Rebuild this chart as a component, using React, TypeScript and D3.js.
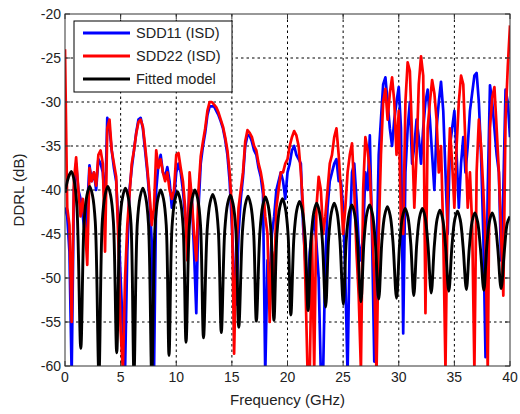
import * as d3 from 'd3';

// measured traces, sampled every 0.2 GHz from 0 to 40 GHz
const STEP = 0.2;

const sdd11 = [
  -42, -43, -47, -61, -40,
  -37, -40, -41, -43, -45,
  -42, -37.2, -39, -38, -40,
  -36.5, -37, -38, -42, -31.8,
  -33, -35.5, -37.5, -39, -44,
  -50, -56, -60.5, -47, -40,
  -37.5, -35.5, -33.5, -32, -31.8,
  -33, -35.5, -38, -41, -46,
  -61, -40, -37, -36, -38,
  -38.5, -37.4, -39, -42, -41,
  -38, -37, -38, -40, -43,
  -45, -39, -41, -47, -54,
  -42, -37, -35, -33.5, -31.5,
  -30.5, -30.5, -30.5, -31, -31.5,
  -32.2, -33, -34.3, -36, -39,
  -44, -50, -53, -45, -41,
  -38.5, -35, -33.8, -33.8, -34.5,
  -35.5, -36, -37.5, -38.5, -40.5,
  -61, -48, -50, -45, -43,
  -40, -39, -38, -39, -41,
  -38, -37, -35.5, -35, -36,
  -36.5, -37, -44, -48, -52,
  -47, -45, -43, -46, -50,
  -61, -61, -48, -42, -39,
  -38, -37, -36.5, -39, -39,
  -42, -50, -61, -45, -38,
  -37, -41, -46, -48, -45,
  -38, -40, -33.8, -45, -59.5,
  -48, -36, -32, -28, -27.2,
  -30, -33, -35, -32, -30,
  -28.3, -33, -56.3, -38, -33,
  -30, -37, -35, -32, -34,
  -37, -33, -30, -28.6, -32,
  -36, -40, -33, -30, -27.7,
  -31, -38, -45, -35, -33,
  -31, -36, -42, -37, -34,
  -38, -35, -31, -29, -27,
  -26.7, -30, -36, -45, -59,
  -40, -28.1, -30, -33, -36,
  -38, -48, -40, -28.6, -30,
  -34,
];

const sdd22 = [
  -24, -42, -44, -55, -39,
  -36.3, -40, -43, -41, -44,
  -48.5, -37.5, -39, -38, -39.5,
  -36, -35.5, -37, -47, -33,
  -32, -35.5, -37, -38.5, -46,
  -56, -60.5, -50, -44, -40.5,
  -37, -35.5, -33.6, -32.3, -32,
  -32.8, -35, -37.5, -40.5, -44,
  -42, -35.5, -37.5, -36.5, -38,
  -39, -38, -40, -41, -40,
  -36, -35.8, -37.5, -39, -42,
  -48, -38, -41, -45, -48,
  -40, -36.2, -34.5, -33, -31,
  -30, -30, -30.3, -30.6, -31.2,
  -32, -32.8, -34, -35.5, -38,
  -42, -58.6, -47, -42, -40,
  -38, -34.5, -33.2, -33.5, -34,
  -35, -35.5, -37, -38, -39.5,
  -43, -45, -55, -47, -50,
  -42, -40, -38, -38, -37,
  -36.5, -35, -34, -33.3, -33.8,
  -35, -38, -42, -50, -60.5,
  -61, -45, -60.5, -42, -38.5,
  -40, -45, -43, -40, -37,
  -36, -34, -33, -36, -40,
  -45, -42, -38, -36, -34.7,
  -40, -47, -52, -60.5, -40,
  -34, -35.5, -38, -44, -50,
  -61, -45, -36, -30, -28.5,
  -32, -29, -27.2, -30, -36,
  -31, -44, -45, -30, -25.5,
  -26.5, -34, -42, -36, -28,
  -24.8, -27, -54, -33, -30,
  -27.5, -29, -32, -38, -35,
  -45, -60.5, -40, -33, -37,
  -42, -35, -30, -27, -28,
  -35, -42, -38, -44, -60.5,
  -38, -32, -35, -40, -46,
  -60.5, -33, -29.5, -28.3, -33,
  -38, -45, -52, -32, -26,
  -21.3,
];

// fitted model: peaks, shoulders and notches [GHz, dB]
const fitted: [number, number][] = [
  [0, -40.3], [0.3, -38.6], [0.57, -37.9], [0.82, -38.9], [1.07, -41.9], [1.42, -58.0],
  [1.72, -43.6], [1.97, -40.6], [2.22, -39.6], [2.47, -40.6], [2.72, -43.6], [3.05, -61],
  [3.35, -43.6], [3.6, -40.6], [3.85, -39.6], [4.1, -40.6], [4.35, -43.6], [4.65, -58.5],
  [4.93, -43.8], [5.18, -40.8], [5.43, -39.8], [5.68, -40.8], [5.93, -43.8], [6.2, -60.8],
  [6.5, -43.8], [6.75, -40.8], [7.0, -39.8], [7.25, -40.8], [7.5, -43.8], [7.8, -61],
  [8.1, -44.0], [8.35, -41.0], [8.6, -40.0], [8.85, -41.0], [9.1, -44.0], [9.35, -58.8],
  [9.62, -44.2], [9.87, -41.2], [10.12, -40.2], [10.37, -41.2], [10.62, -44.2], [10.88, -57.3],
  [11.18, -44.0], [11.43, -41.0], [11.68, -40.0], [11.93, -41.0], [12.18, -44.0], [12.45, -56.8],
  [12.78, -44.5], [13.03, -41.5], [13.28, -40.5], [13.53, -41.5], [13.78, -44.5], [14.05, -56.2],
  [14.36, -44.6], [14.61, -41.6], [14.86, -40.6], [15.11, -41.6], [15.36, -44.6], [15.62, -55.6],
  [15.95, -44.7], [16.2, -41.7], [16.45, -40.7], [16.7, -41.7], [16.95, -44.7], [17.2, -54.9],
  [17.52, -44.8], [17.77, -41.8], [18.02, -40.8], [18.27, -41.8], [18.52, -44.8], [18.78, -54.8],
  [19.05, -45.0], [19.3, -42.0], [19.55, -41.0], [19.8, -42.0], [20.05, -45.0], [20.3, -54.2],
  [20.58, -45.3], [20.83, -42.3], [21.08, -41.3], [21.33, -42.3], [21.58, -45.3], [21.85, -53.7],
  [22.12, -45.5], [22.37, -42.5], [22.62, -41.5], [22.87, -42.5], [23.12, -45.5], [23.43, -53.3],
  [23.7, -45.5], [23.95, -42.5], [24.2, -41.5], [24.45, -42.5], [24.7, -45.5], [25.02, -53.0],
  [25.28, -45.7], [25.53, -42.7], [25.78, -41.7], [26.03, -42.7], [26.28, -45.7], [26.6, -52.7],
  [26.88, -45.7], [27.13, -42.7], [27.38, -41.7], [27.63, -42.7], [27.88, -45.7], [28.2, -52.4],
  [28.48, -45.9], [28.73, -42.9], [28.98, -41.9], [29.23, -42.9], [29.48, -45.9], [29.8, -52.3],
  [30.08, -46.1], [30.33, -43.1], [30.58, -42.1], [30.83, -43.1], [31.08, -46.1], [31.35, -52.0],
  [31.62, -46.1], [31.87, -43.1], [32.12, -42.1], [32.37, -43.1], [32.62, -46.1], [32.92, -51.7],
  [33.2, -46.3], [33.45, -43.3], [33.7, -42.3], [33.95, -43.3], [34.2, -46.3], [34.5, -51.5],
  [34.78, -46.4], [35.03, -43.4], [35.28, -42.4], [35.53, -43.4], [35.78, -46.4], [36.08, -51.3],
  [36.34, -46.6], [36.59, -43.6], [36.84, -42.6], [37.09, -43.6], [37.34, -46.6], [37.65, -51.4],
  [37.9, -46.6], [38.15, -43.6], [38.4, -42.6], [38.65, -43.6], [38.9, -46.6], [39.2, -51.2],
  [39.5, -46.8], [39.75, -43.8], [40.0, -43.0],
];

const xTicks = [0, 5, 10, 15, 20, 25, 30, 35, 40];
const yTicks = [-60, -55, -50, -45, -40, -35, -30, -25, -20];

const series = [
  { name: 'SDD11 (ISD)', color: '#0000ff' },
  { name: 'SDD22 (ISD)', color: '#ff0000' },
  { name: 'Fitted model', color: '#000000' },
];

const W = 520, H = 414;
const L = 65, R = 510, T = 14, B = 366;
const font = '"Liberation Sans", Arial, sans-serif';

export default function App() {
  const x = d3.scaleLinear().domain([0, 40]).range([L, R]);
  const y = d3.scaleLinear().domain([-60, -20]).range([B, T]);

  const sampled = d3.line<number>()
    .x((_, i) => x(i * STEP))
    .y(d => y(d));
  const smooth = d3.line<[number, number]>()
    .x(d => x(d[0]))
    .y(d => y(d[1]))
    .curve(d3.curveCatmullRom.alpha(0.5));

  return (
    <svg width={W} height={H} style={{ position: 'absolute', left: 0, top: 0, background: '#fff' }}>
      <defs>
        <clipPath id="plot">
          <rect x={L} y={T} width={R - L} height={B - T} />
        </clipPath>
      </defs>
      <rect x={0} y={0} width={W} height={H} fill="#fff" />

      {/* grid */}
      {xTicks.slice(1, -1).map(t => (
        <line key={'gx' + t} x1={x(t)} x2={x(t)} y1={T} y2={B}
          stroke="#000" strokeWidth={1} strokeDasharray="2.5,3" />
      ))}
      {yTicks.slice(1, -1).map(t => (
        <line key={'gy' + t} x1={L} x2={R} y1={y(t)} y2={y(t)}
          stroke="#000" strokeWidth={1} strokeDasharray="2.5,3" />
      ))}

      <g clipPath="url(#plot)" fill="none" strokeLinejoin="round">
        <path d={sampled(sdd11) || ''} stroke={series[0].color} strokeWidth={2.7} />
        <path d={sampled(sdd22) || ''} stroke={series[1].color} strokeWidth={2.7} />
        <path d={smooth(fitted) || ''} stroke={series[2].color} strokeWidth={2.9} />
      </g>

      {/* box and inward ticks */}
      <rect x={L} y={T} width={R - L} height={B - T} fill="none" stroke="#333" strokeWidth={1} />
      {xTicks.map(t => (
        <g key={'tx' + t}>
          <line x1={x(t)} x2={x(t)} y1={B} y2={B - 5} stroke="#333" />
          <line x1={x(t)} x2={x(t)} y1={T} y2={T + 5} stroke="#333" />
          <text x={x(t)} y={B + 16} textAnchor="middle" fontFamily={font} fontSize={14} fill="#222">{t}</text>
        </g>
      ))}
      {yTicks.map(t => (
        <g key={'ty' + t}>
          <line x1={L} x2={L + 5} y1={y(t)} y2={y(t)} stroke="#333" />
          <line x1={R} x2={R - 5} y1={y(t)} y2={y(t)} stroke="#333" />
          <text x={L - 4} y={y(t)} dy="0.35em" textAnchor="end" fontFamily={font} fontSize={14} fill="#222">{t}</text>
        </g>
      ))}

      <text x={(L + R) / 2} y={405} textAnchor="middle" fontFamily={font} fontSize={15} fill="#222">Frequency (GHz)</text>
      <text transform={`translate(24,${(T + B) / 2}) rotate(-90)`} textAnchor="middle" fontFamily={font} fontSize={15} fill="#222">DDRL (dB)</text>

      {/* legend */}
      <rect x={74} y={21} width={158} height={71} fill="#fff" stroke="#000" strokeWidth={1} />
      {series.map((s, i) => (
        <g key={s.name} transform={`translate(0,${33 + i * 23})`}>
          <line x1={83} x2={130} y1={0} y2={0} stroke={s.color} strokeWidth={2.8} />
          <text x={136} y={0} dy="0.35em" fontFamily={font} fontSize={14.5} fill="#222">{s.name}</text>
        </g>
      ))}
    </svg>
  );
}
